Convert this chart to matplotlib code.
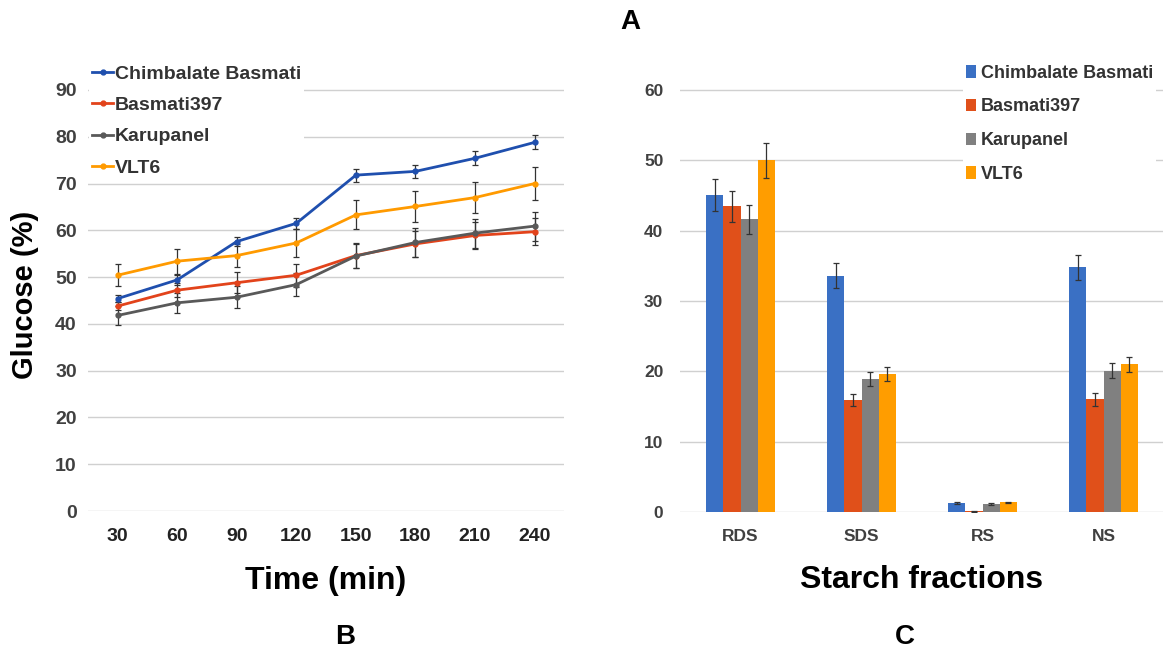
import matplotlib
matplotlib.use('Agg')
import matplotlib.pyplot as plt
from matplotlib.lines import Line2D
from matplotlib.patches import Patch
import numpy as np

plt.rcParams['font.family'] = ['Liberation Sans', 'DejaVu Sans']

# glucose release over time
times = ['30', '60', '90', '120', '150', '180', '210', '240']
varieties = ['Chimbalate Basmati', 'Basmati397', 'Karupanel', 'VLT6']

glucose_chimbalate = [45.4, 49.4, 57.6, 61.5, 71.8, 72.6, 75.4, 78.8]
glucose_basmati397 = [43.8, 47.2, 48.8, 50.4, 54.6, 57.1, 58.9, 59.7]
glucose_karupanel = [41.8, 44.5, 45.7, 48.4, 54.5, 57.4, 59.4, 60.9]
glucose_vlt6 = [50.4, 53.4, 54.6, 57.3, 63.3, 65.1, 67.0, 70.0]

err_chimbalate = [0.8, 1.0, 1.0, 1.2, 1.4, 1.4, 1.5, 1.5]
err_basmati397 = [0.8, 1.5, 2.3, 2.5, 2.6, 2.8, 2.9, 2.9]
err_karupanel = [2.1, 2.2, 2.4, 2.4, 2.6, 3.0, 3.1, 3.1]
err_vlt6 = [2.4, 2.7, 2.5, 3.0, 3.1, 3.3, 3.4, 3.5]

# starch fractions
fractions = ['RDS', 'SDS', 'RS', 'NS']
starch_chimbalate = [45.1, 33.6, 1.23, 34.8]
starch_basmati397 = [43.5, 15.9, 0.1, 16.0]
starch_karupanel = [41.6, 18.9, 1.14, 20.1]
starch_vlt6 = [50.0, 19.6, 1.37, 21.0]

serr_chimbalate = [2.3, 1.8, 0.15, 1.8]
serr_basmati397 = [2.2, 0.85, 0.05, 0.9]
serr_karupanel = [2.1, 1.0, 0.1, 1.1]
serr_vlt6 = [2.5, 1.0, 0.1, 1.1]

line_colors = ['#1f4fae', '#e2431b', '#595959', '#ff9a00']
bar_colors = ['#3a70c4', '#e0501a', '#808080', '#ff9d00']
tick_color = '#404040'
grid_color = '#d0d0d0'

W, H = 1163, 652
fig = plt.figure(figsize=(W / 100, H / 100), dpi=100)


def px_axes(x0, y_top, x1, y_bot):
    return fig.add_axes([x0 / W, 1 - y_bot / H, (x1 - x0) / W, (y_bot - y_top) / H])


def style(ax):
    for s in ax.spines.values():
        s.set_visible(False)
    ax.tick_params(length=0)
    ax.yaxis.grid(True, color=grid_color, lw=1)
    ax.set_axisbelow(True)


def white_legend(leg):
    frame = leg.get_frame()
    frame.set_edgecolor('none')
    frame.set_facecolor('white')
    frame.set_alpha(1)
    for t in leg.get_texts():
        t.set_color('#333333')


# ---- B: line chart
ax1 = px_axes(87.8, 511 - 92 * 4.678, 564.4, 511)
style(ax1)
x = np.arange(len(times))
series = [glucose_chimbalate, glucose_basmati397, glucose_karupanel, glucose_vlt6]
errs = [err_chimbalate, err_basmati397, err_karupanel, err_vlt6]
for vals, e, c in zip(series, errs, line_colors):
    ax1.errorbar(x, vals, yerr=e, color=c, lw=2, marker='o', ms=3.5,
                 ecolor='#333333', elinewidth=0.9, capsize=2.5, capthick=0.9)
ax1.set_xlim(-0.5, len(times) - 0.5)
ax1.set_ylim(0, 92)
ax1.set_yticks(range(0, 91, 10))
ax1.set_xticks(x)
ax1.set_xticklabels(times)
ax1.tick_params(axis='y', labelsize=14, labelcolor=tick_color, pad=8)
ax1.tick_params(axis='x', labelsize=14, labelcolor='#222222', pad=12)
for t in ax1.get_xticklabels() + ax1.get_yticklabels():
    t.set_fontweight('bold')
ax1.set_xlabel('Time (min)', fontsize=23, fontweight='bold', labelpad=15)
fig.text(25.5 / W, 1 - 295 / H, 'Glucose (%)', fontsize=21, fontweight='bold',
         rotation=90, ha='center', va='center')

handles = [Line2D([], [], color=c, lw=2, marker='o', ms=3.5) for c in line_colors]
leg1 = ax1.legend(handles, varieties, loc='upper left', bbox_to_anchor=(89 / W, 1 - 62 / H),
                  bbox_transform=fig.transFigure, frameon=True, fancybox=False,
                  prop={'size': 14, 'weight': 'bold'}, handlelength=1.1, handletextpad=0.1,
                  labelspacing=0.71, borderpad=0.15, borderaxespad=0)
white_legend(leg1)

# ---- C: bar chart
ax2 = px_axes(680, 512 - 61.5 * 7.033, 1164, 512)
style(ax2)
xb = np.arange(len(fractions))
width = 0.143
bars = [starch_chimbalate, starch_basmati397, starch_karupanel, starch_vlt6]
berrs = [serr_chimbalate, serr_basmati397, serr_karupanel, serr_vlt6]
for i, (vals, e, c) in enumerate(zip(bars, berrs, bar_colors)):
    ax2.bar(xb + (i - 1.5) * width, vals, width, color=c, yerr=e,
            error_kw=dict(ecolor='#333333', elinewidth=0.9, capsize=2.5, capthick=0.9))
ax2.set_xlim(-0.5, len(fractions) - 0.5)
ax2.set_ylim(0, 61.5)
ax2.set_yticks(range(0, 61, 10))
ax2.set_xticks(xb)
ax2.set_xticklabels(fractions)
ax2.tick_params(axis='y', labelsize=12.5, labelcolor=tick_color, pad=12)
ax2.tick_params(axis='x', labelsize=12.5, labelcolor=tick_color, pad=12)
for t in ax2.get_xticklabels() + ax2.get_yticklabels():
    t.set_fontweight('bold')
ax2.set_xlabel('Starch fractions', fontsize=23, fontweight='bold', labelpad=15)

bhandles = [Patch(facecolor=c, edgecolor='none') for c in bar_colors]
leg2 = ax2.legend(bhandles, varieties, loc='upper left', bbox_to_anchor=(963 / W, 1 - 62 / H),
                  bbox_transform=fig.transFigure, frameon=True, fancybox=False,
                  prop={'size': 13, 'weight': 'bold'}, handlelength=0.55, handleheight=0.7,
                  handletextpad=0.3, labelspacing=0.93, borderpad=0.15, borderaxespad=0)
white_legend(leg2)

# panel letters
for label, px, py in [('A', 630, 22), ('B', 345, 637), ('C', 905, 637)]:
    fig.text(px / W, 1 - py / H, label, fontsize=20, fontweight='bold',
             ha='center', va='center')

fig.savefig('out.png', dpi=100)
